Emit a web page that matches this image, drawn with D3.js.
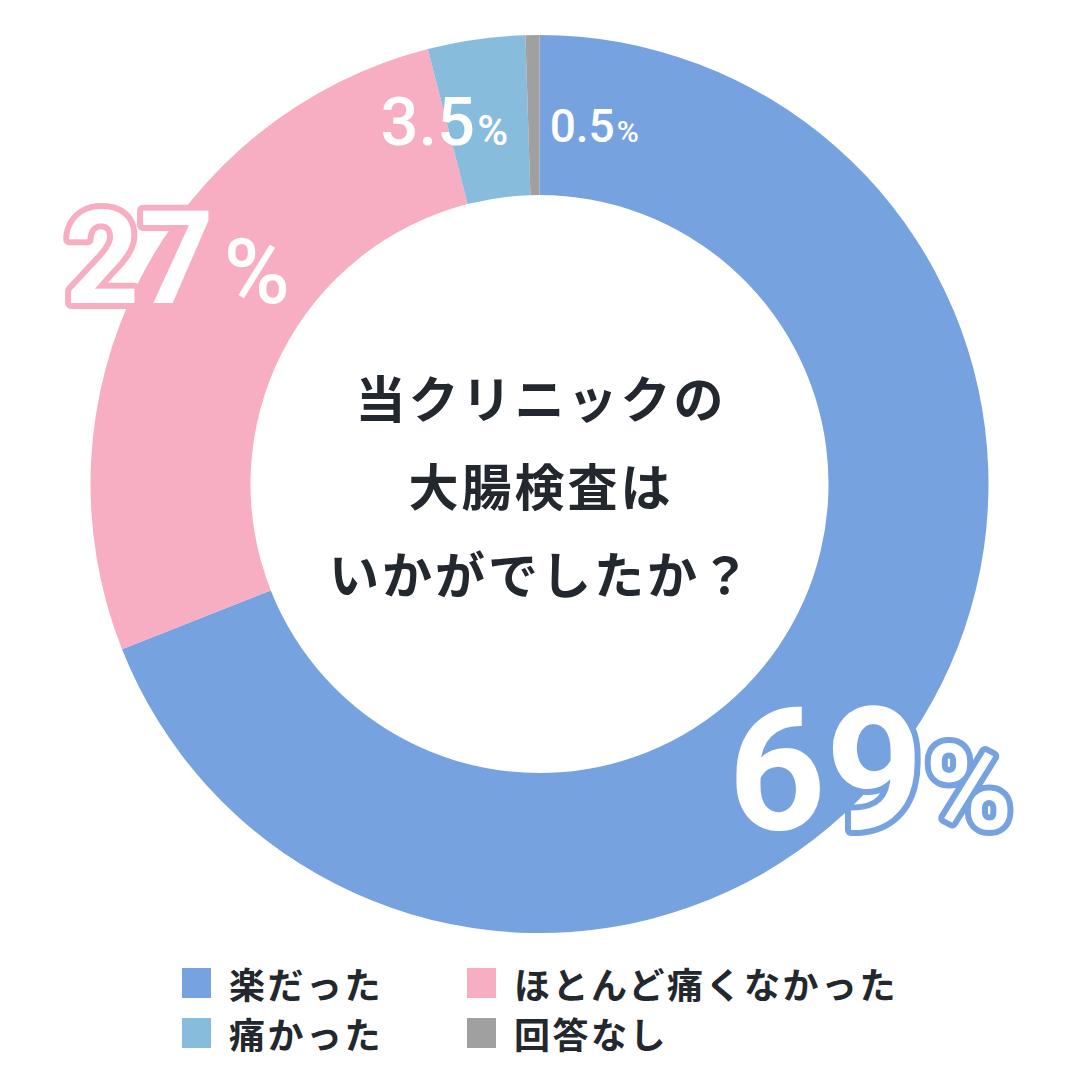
<!DOCTYPE html>
<html>
<head>
<meta charset="utf-8">
<script src="https://cdn.jsdelivr.net/npm/d3@7"></script>
<style>
  html, body { margin: 0; padding: 0; background: #ffffff; }
  svg { display: block; }
</style>
</head>
<body>
<svg id="chart" width="1080" height="1080"></svg>
<script>
// ---- data ----
const categories = ["楽だった", "ほとんど痛くなかった", "痛かった", "回答なし"];
const values = [69, 27, 3.5, 0.5];
const valueLabels = ["69", "27", "3.5", "0.5"];
const colors = ["#76a2e0", "#f7aec2", "#88bcdc", "#a0a0a0"];
const titleLines = ["当クリニックの", "大腸検査は", "いかがでしたか？"];

// ---- layout ----
const cx = 539.5, cy = 484;
const outerR = 449, innerR = 289;
const textColor = "#23272e";

// label styling per slice: polar placement relative to slice mid-angle
const labelStyle = [
  { r: 478, shift: 12.0, num: 170, pct: 118, ls: 0, weight: 700, pctWeight: 700, gap: 2, stroke: true },
  { r: 405, shift: -0.4, num: 130, pct: 90, ls: 0, weight: 700, pctWeight: 500, gap: 10, stroke: true },
  { r: 352, shift: -7.6, num: 67, pct: 42, ls: 0, weight: 500, pctWeight: 500, gap: 2, stroke: false },
  { r: 346, shift: 10, num: 46, pct: 30, ls: 0, weight: 500, pctWeight: 500, gap: 2, stroke: false }
];

const svg = d3.select("#chart");
const g = svg.append("g").attr("transform", `translate(${cx},${cy})`);

const pie = d3.pie().sort(null).value(d => d).startAngle(0).endAngle(2 * Math.PI);
const arcs = pie(values);
const arc = d3.arc().innerRadius(innerR).outerRadius(outerR);

g.selectAll("path.slice")
  .data(arcs)
  .join("path")
  .attr("class", "slice")
  .attr("d", arc)
  .attr("fill", (d, i) => colors[i]);

// center title
const title = g.append("text")
  .attr("text-anchor", "middle")
  .attr("font-family", "'Noto Sans CJK JP', 'Noto Sans', sans-serif")
  .attr("font-weight", 700)
  .attr("font-size", 50)
  .attr("letter-spacing", 3)
  .attr("fill", textColor);
titleLines.forEach((t, i) => {
  title.append("tspan")
    .attr("x", 1.5)
    .attr("y", (i - 1) * 88)
    .attr("dominant-baseline", "central")
    .text(t);
});

// value labels: stroke layer beneath, fill layer on top
function addLabel(d, i, layer) {
  const s = labelStyle[i];
  const mid = (d.startAngle + d.endAngle) / 2 + s.shift * Math.PI / 180;
  const x = s.r * Math.sin(mid);
  const y = -s.r * Math.cos(mid);
  const t = g.append("text")
    .attr("x", x)
    .attr("y", y)
    .attr("text-anchor", "middle")
    .attr("font-family", "Roboto, 'Noto Sans', sans-serif");
  if (layer === "stroke") {
    t.attr("fill", colors[i])
     .attr("stroke", colors[i])
     .attr("stroke-width", 12)
     .attr("stroke-linejoin", "round");
  } else {
    t.attr("fill", "#ffffff");
  }
  t.append("tspan")
    .attr("font-size", s.num)
    .attr("font-weight", s.weight)
    .attr("letter-spacing", s.ls)
    .text(valueLabels[i]);
  t.append("tspan")
    .attr("font-size", s.pct)
    .attr("font-weight", s.pctWeight)
    .attr("dx", s.gap)
    .text("%");
}
arcs.forEach((d, i) => { if (labelStyle[i].stroke) addLabel(d, i, "stroke"); });
arcs.forEach((d, i) => addLabel(d, i, "fill"));

// legend
const legend = svg.append("g").attr("transform", "translate(182,968)");
const colW = 285, rowH = 50, box = 29;
const items = legend.selectAll("g.item")
  .data(categories)
  .join("g")
  .attr("class", "item")
  .attr("transform", (d, i) => `translate(${(i % 2) * colW},${Math.floor(i / 2) * rowH})`);
items.append("rect")
  .attr("width", box)
  .attr("height", box + 1)
  .attr("fill", (d, i) => colors[i]);
items.append("text")
  .attr("x", 47)
  .attr("y", 15)
  .attr("dominant-baseline", "central")
  .attr("font-family", "'Noto Sans CJK JP', 'Noto Sans', sans-serif")
  .attr("font-weight", 700)
  .attr("font-size", 36)
  .attr("letter-spacing", 2.5)
  .attr("fill", textColor)
  .text(d => d);
</script>
</body>
</html>
